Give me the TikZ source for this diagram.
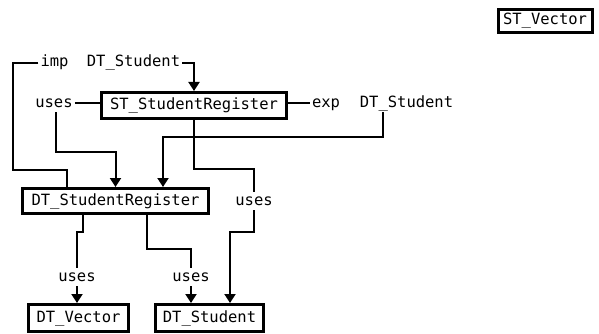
\documentclass[tikz,border=0pt]{standalone}
\usepackage{fontspec}
\setmonofont{DejaVu Sans Mono}
\usetikzlibrary{arrows.meta}
\begin{document}
\begin{tikzpicture}[x=1pt,y=-1pt,
  txt/.style={font=\ttfamily\fontsize{15.5}{18}\selectfont, text height=11pt, text depth=3pt},
  box/.style={txt, draw, line width=3pt, inner sep=0pt},
  lbl/.style={txt, inner sep=2pt},
  conn/.style={line width=2pt},
  arr/.style={conn, -{Triangle[width=11pt,length=9pt]}}]
\useasboundingbox (0,0) rectangle (599,334);
% boxes
\node[box, minimum width=94pt, minimum height=23pt] (stv) at (545,21) {ST\_Vector};
\node[box, minimum width=185pt, minimum height=26pt] (ssr) at (194,105.5) {ST\_StudentRegister};
\node[box, minimum width=186pt, minimum height=25pt] (dsr) at (115.5,201) {DT\_StudentRegister};
\node[box, minimum width=100pt, minimum height=27pt] (dv) at (78.5,318) {DT\_Vector};
\node[box, minimum width=108pt, minimum height=27pt] (ds) at (209.5,318) {DT\_Student};
% labels
\node[lbl] (imp) at (54.5,63) {imp};
\node[lbl] (dts1) at (133.5,63) {DT\_Student};
\node[lbl] (uses1) at (54,103) {uses};
\node[lbl] (exp) at (326,103) {exp};
\node[lbl] (dts2) at (406.5,103) {DT\_Student};
\node[lbl] (uses3) at (254,201) {uses};
\node[lbl] (uses4) at (77,277) {uses};
\node[lbl] (uses5) at (191,277) {uses};
% connectors
\draw[conn] (imp.west) -| (13,170) -| ([xshift=46pt]dsr.north west);
\draw[arr] (dts1.east) -| (ssr.north);
\draw[conn] (uses1.east) -- (uses1.east -| ssr.west);
\draw[arr] ([xshift=2pt]uses1.south) |- (dsr.north |- 0,152) -- (dsr.north);
\draw[conn] (exp.west -| ssr.east) -- (exp.west);
\draw[arr] ([xshift=-23.5pt]dts2.south) |- (163,137) -- (163,0 |- dsr.north);
\draw[conn] (ssr.south) |- (uses3.north |- 0,169) -- (uses3.north);
\draw[arr] (uses3.south) |- (230,232) -- (230,0 |- ds.north);
\draw[conn] ([xshift=-32.5pt]dsr.south) |- (uses4.north |- 0,232) -- (uses4.north);
\draw[arr] (uses4.south) -- (uses4.south |- dv.north);
\draw[conn] ([xshift=31.5pt]dsr.south) |- (uses5.north |- 0,249) -- (uses5.north);
\draw[arr] (uses5.south) -- (uses5.south |- ds.north);
\end{tikzpicture}
\end{document}
